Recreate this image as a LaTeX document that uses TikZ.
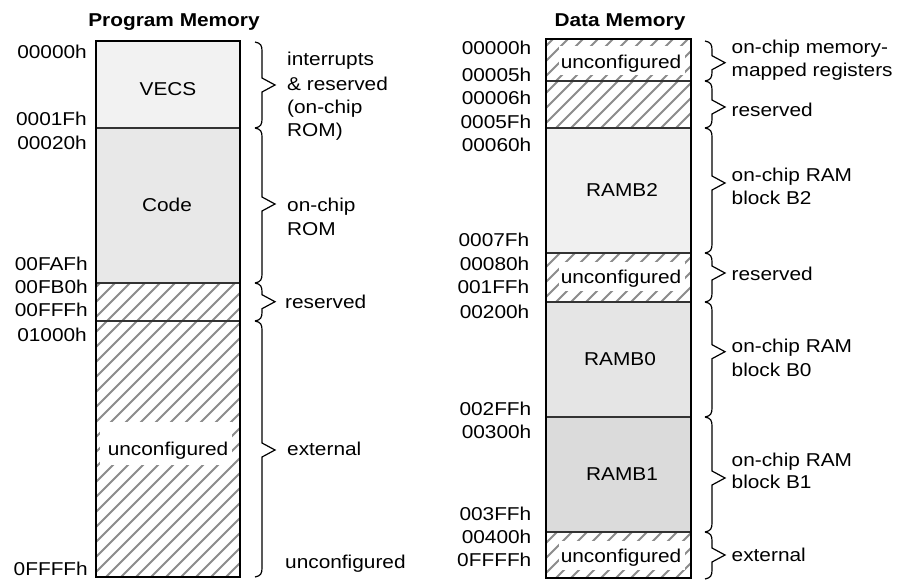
\documentclass[tikz,border=0pt]{standalone}
\usepackage{fontspec}
\setmainfont[FakeStretch=1.12]{Liberation Sans}
\newcommand\mainfs{\fontsize{18.6pt}{23.5pt}\selectfont}
\newcommand\hatchrect[4]{%
  \begin{scope}
    \clip (#1,#2) rectangle (#3,#4);
    \foreach \k in {0,...,42} \draw[hatch] ({#1-320+\k*15},#4) -- ++(330,-330);
  \end{scope}}
\newcommand\mbrace[4]{%
  \draw[bracestyle] (#1,#2) .. controls (#1+6,#2+1) and (#1+7,#2+4) .. (#1+7,#2+9)
    -- (#1+7,#4-7) -- (#1+20,#4) -- (#1+7,#4+7) -- (#1+7,#3-9)
    .. controls (#1+7,#3-4) and (#1+6,#3-1) .. (#1,#3);}
\begin{document}
\begin{tikzpicture}[x=1pt,y=-1pt,
  lbl/.style={inner sep=0pt, font=\mainfs},
  addr/.style={lbl, anchor=base east},
  desc/.style={lbl, anchor=base west},
  ctr/.style={lbl, anchor=base},
  titl/.style={lbl, anchor=base, font=\mainfs\bfseries},
  outer/.style={draw=black, line width=2.6pt},
  divider/.style={draw=black!80, line width=1.1pt},
  hatch/.style={draw=black!45, line width=1.8pt},
  bracestyle/.style={draw=black, line width=1.2pt, line join=miter}]
\useasboundingbox (0,0) rectangle (900,579);
\fill[white] (0,0) rectangle (900,579);

% ---------------- Program memory ----------------
\node[titl] (ptitle) at (174,26.7) {Program Memory};
\fill[black!5] (96,41) rectangle (240,128);
\fill[black!9] (96,128) rectangle (240,283);
\hatchrect{96}{283}{240}{577}
\fill[white] (100,422) rectangle (232,465);
\draw[divider] (96,128) -- (240,128);
\draw[divider] (96,283) -- (240,283);
\draw[divider] (96,321) -- (240,321);
\draw[outer] (96,41) rectangle (240,577);
\node[ctr] (vecs) at (168,95) {VECS};
\node[ctr] (code) at (167,211.7) {Code};
\node[ctr] (punc) at (168,455.7) {unconfigured};

\node[addr] (pa1) at (87,58.3) {00000h};
\node[addr] (pa2) at (87,125) {0001Fh};
\node[addr] (pa3) at (87,149) {00020h};
\node[addr] (pa4) at (88,270.7) {00FAFh};
\node[addr] (pa5) at (88,293.3) {00FB0h};
\node[addr] (pa6) at (88,316.7) {00FFFh};
\node[addr] (pa7) at (87,341.7) {01000h};
\node[addr] (pa8) at (88,575.5) {0FFFFh};

\mbrace{255}{42}{128}{85}
\mbrace{255}{128}{283}{204}
\mbrace{255}{283}{321}{301.7}
\mbrace{255}{321}{577}{450}

\node[desc] (pd1) at (287,65.7) {interrupts};
\node[desc] (pd2) at (287,90) {\& reserved};
\node[desc] (pd3) at (287,113.3) {(on-chip};
\node[desc] (pd4) at (287,136.7) {ROM)};
\node[desc] (pd5) at (287,211.7) {on-chip};
\node[desc] (pd6) at (287,235) {ROM};
\node[desc] (pd7) at (285,308.3) {reserved};
\node[desc] (pd8) at (287,455) {external};
\node[desc] (pd9) at (285,568) {unconfigured};

% ---------------- Data memory ----------------
\node[titl] (dtitle) at (620,26) {Data Memory};
\hatchrect{546}{39}{691}{81}
\hatchrect{546}{81}{691}{128}
\fill[black!6] (546,128) rectangle (691,253);
\hatchrect{546}{253}{691}{302}
\fill[black!10] (546,302) rectangle (691,417);
\fill[black!14] (546,417) rectangle (691,532);
\hatchrect{546}{532}{691}{578}
\fill[white] (559,46) rectangle (685,75);
\fill[white] (559,262) rectangle (685,291);
\fill[white] (559,541) rectangle (685,570);
\draw[divider] (546,81) -- (691,81);
\draw[divider] (546,128) -- (691,128);
\draw[divider] (546,253) -- (691,253);
\draw[divider] (546,302) -- (691,302);
\draw[divider] (546,417) -- (691,417);
\draw[divider] (546,532) -- (691,532);
\draw[outer] (546,39) rectangle (691,578);
\node[ctr] (dunc1) at (621,68.3) {unconfigured};
\node[ctr] (ramb2) at (622,196.7) {RAMB2};
\node[ctr] (dunc2) at (621,283.3) {unconfigured};
\node[ctr] (ramb0) at (620,365) {RAMB0};
\node[ctr] (ramb1) at (622,480.7) {RAMB1};
\node[ctr] (dunc3) at (621,562.7) {unconfigured};

\node[addr] (da1) at (531.5,54) {00000h};
\node[addr] (da2) at (531.5,81.7) {00005h};
\node[addr] (da3) at (531.5,104) {00006h};
\node[addr] (da4) at (531.5,128.3) {0005Fh};
\node[addr] (da5) at (531.5,151.7) {00060h};
\node[addr] (da6) at (529.5,246.7) {0007Fh};
\node[addr] (da7) at (529.5,270.7) {00080h};
\node[addr] (da8) at (529.5,293.3) {001FFh};
\node[addr] (da9) at (529.5,318.3) {00200h};
\node[addr] (da10) at (531.5,415) {002FFh};
\node[addr] (da11) at (531.5,438.3) {00300h};
\node[addr] (da12) at (531.5,520) {003FFh};
\node[addr] (da13) at (531.5,543.3) {00400h};
\node[addr] (da14) at (531.5,566.7) {0FFFFh};

\mbrace{705}{41}{81}{62.7}
\mbrace{705}{81}{128}{107}
\mbrace{705}{128}{253}{183}
\mbrace{705}{253}{302}{273}
\mbrace{705}{302}{417}{351.7}
\mbrace{705}{417}{532}{478}
\mbrace{705}{532}{579}{555}

\node[desc] (dd1) at (731.5,53.3) {on-chip memory-};
\node[desc] (dd2) at (731.5,76.3) {mapped registers};
\node[desc] (dd3) at (731.5,116.7) {reserved};
\node[desc] (dd4) at (731.5,181.7) {on-chip RAM};
\node[desc] (dd5) at (731.5,204) {block B2};
\node[desc] (dd6) at (731.5,280) {reserved};
\node[desc] (dd7) at (731.5,352.7) {on-chip RAM};
\node[desc] (dd8) at (731.5,376) {block B0};
\node[desc] (dd9) at (731.5,466) {on-chip RAM};
\node[desc] (dd10) at (731.5,488.3) {block B1};
\node[desc] (dd11) at (731.5,561.7) {external};
\end{tikzpicture}
\end{document}
